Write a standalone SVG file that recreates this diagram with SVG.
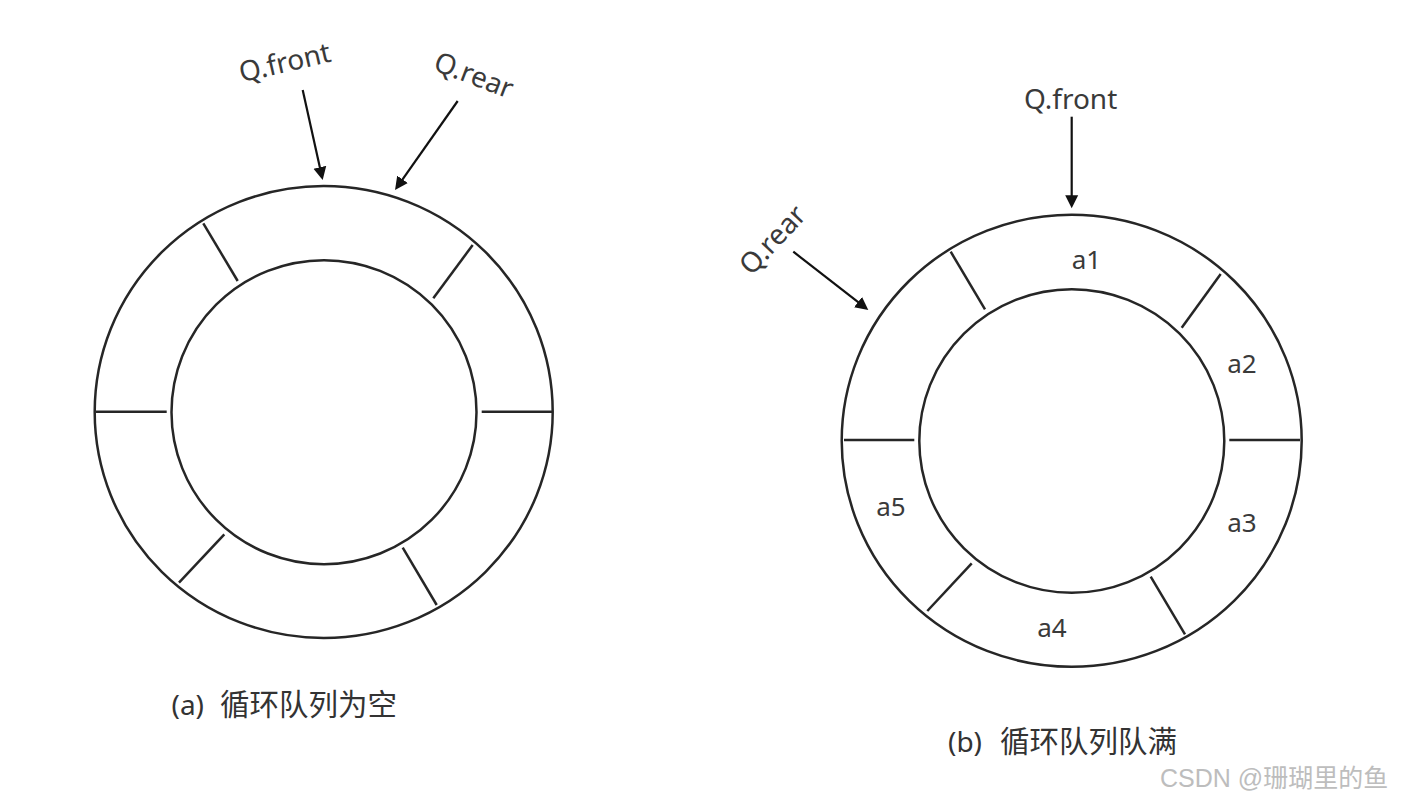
<svg xmlns="http://www.w3.org/2000/svg" width="1401" height="802" viewBox="0 0 1401 802">
<style>
.ring{fill:none;stroke:#262626;stroke-width:2.5}
.div{stroke:#262626;stroke-width:2.5}
.arr{stroke:#111;stroke-width:2.2;fill:none;marker-end:url(#ah)}
.lbl{font-family:"Noto Sans","Noto Sans CJK SC",sans-serif;font-size:28px;fill:#3a3a3a}
.cell{font-family:"Noto Sans","Noto Sans CJK SC",sans-serif;font-size:26px;fill:#3a3a3a;text-anchor:middle}
.cap{font-family:"Noto Sans","Noto Sans CJK SC",sans-serif;font-size:28px;fill:#333}
.cjk{font-size:29.5px}
.wm{font-family:"Liberation Sans","Noto Sans CJK SC",sans-serif;font-size:25px;fill:#bdbdbd}
</style>
<defs>
<marker id="ah" markerUnits="userSpaceOnUse" markerWidth="14" markerHeight="14" refX="3" refY="7" orient="auto">
<path d="M0,0.5 L13,7 L0,13.5 z" fill="#111"/>
</marker>
</defs>
<rect width="1401" height="802" fill="#ffffff"/>

<g id="queue-a">
<ellipse class="ring" cx="323.7" cy="412" rx="229" ry="226"/>
<ellipse class="ring" cx="324" cy="412.2" rx="152.5" ry="152"/>
<line class="div" x1="203.3" y1="223.3" x2="237.7" y2="281"/>
<line class="div" x1="472.7" y1="245" x2="433.3" y2="298.3"/>
<line class="div" x1="96" y1="411.7" x2="166.7" y2="411.7"/>
<line class="div" x1="481.7" y1="411.7" x2="552" y2="411.7"/>
<line class="div" x1="224.3" y1="534.3" x2="179" y2="582.7"/>
<line class="div" x1="402.7" y1="547.7" x2="436.7" y2="605"/>
</g>

<g id="queue-b">
<ellipse class="ring" cx="1071.7" cy="440.8" rx="230" ry="226"/>
<ellipse class="ring" cx="1071.8" cy="441" rx="152.5" ry="151.7"/>
<line class="div" x1="950.7" y1="251.7" x2="985" y2="309.3"/>
<line class="div" x1="1220.7" y1="274" x2="1181.7" y2="327.7"/>
<line class="div" x1="844" y1="440" x2="914.3" y2="440"/>
<line class="div" x1="1229.3" y1="440" x2="1300" y2="440"/>
<line class="div" x1="971.7" y1="563.3" x2="927.3" y2="611"/>
<line class="div" x1="1150.7" y1="576.7" x2="1185" y2="634.3"/>
<text class="cell" x="1086.5" y="268.5">a1</text>
<text class="cell" x="1242" y="372.5">a2</text>
<text class="cell" x="1242" y="531.5">a3</text>
<text class="cell" x="1052" y="636.5">a4</text>
<text class="cell" x="891" y="516">a5</text>
</g>

<g id="labels-a">
<text class="lbl" transform="translate(241.6,82.3) rotate(-13)">Q.front</text>
<text class="lbl" transform="translate(432,69.5) rotate(21)">Q.rear</text>
</g>

<g id="labels-b">
<text class="lbl" x="1024" y="109">Q.front</text>
<text class="lbl" transform="translate(751.6,276.5) rotate(-47)">Q.rear</text>
</g>

<g id="connectors">
<line class="arr" x1="302.7" y1="90" x2="320.5" y2="170.2"/>
<line class="arr" x1="457.7" y1="101" x2="400.8" y2="181.8"/>
<line class="arr" x1="1071.7" y1="116.7" x2="1071.7" y2="198.3"/>
<line class="arr" x1="793.3" y1="251.7" x2="860.4" y2="303.9"/>
</g>

<g id="captions">
<text class="cap" x="171.5" y="715">(a)<tspan class="cjk" x="220">循环队列为空</tspan></text>
<text class="cap" x="948" y="751.5">(b)<tspan class="cjk" x="1000">循环队列队满</tspan></text>
<text class="wm" x="1160" y="787">CSDN @珊瑚里的鱼</text>
</g>
</svg>
